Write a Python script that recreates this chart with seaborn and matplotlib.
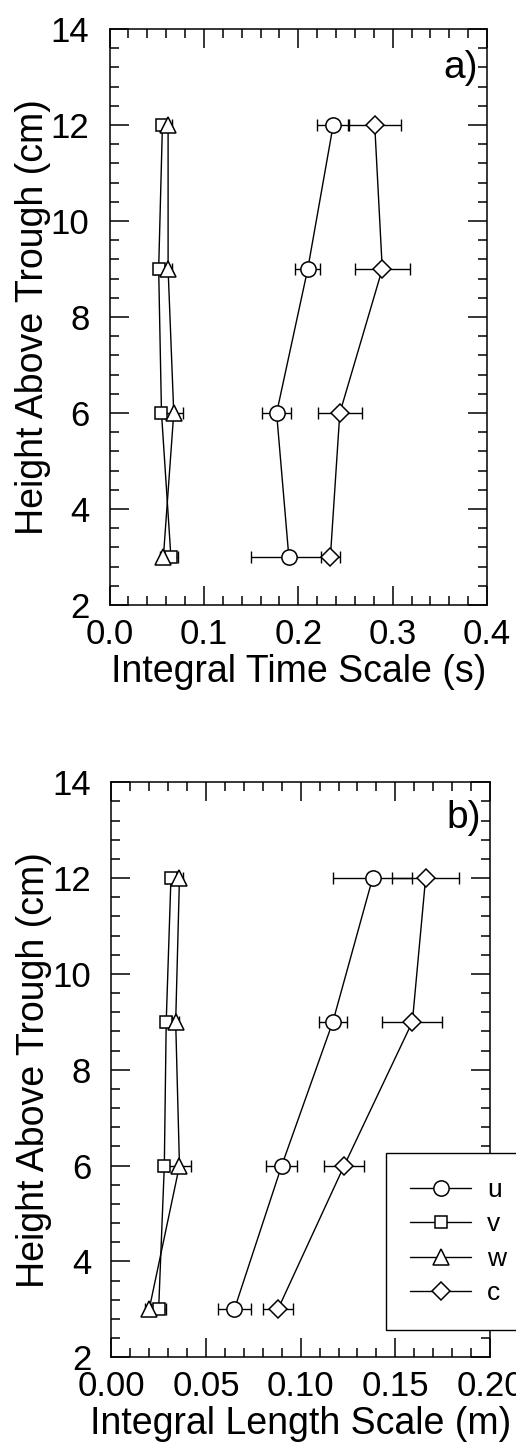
import numpy as np
import pandas as pd
import matplotlib
matplotlib.use("Agg")
import matplotlib.pyplot as plt
import seaborn as sns
from matplotlib.ticker import MultipleLocator

# ---------------- data ----------------
heights = [3, 6, 9, 12]
series = ["u", "v", "w", "c"]

# panel a) integral time scale (s)
time_u = [0.190, 0.177, 0.210, 0.237]
time_u_err = [0.040, 0.015, 0.013, 0.017]
time_v = [0.065, 0.055, 0.052, 0.056]
time_v_err = [0.007, 0.004, 0.004, 0.004]
time_w = [0.057, 0.068, 0.062, 0.062]
time_w_err = [0.004, 0.010, 0.004, 0.004]
time_c = [0.234, 0.244, 0.289, 0.281]
time_c_err = [0.010, 0.023, 0.029, 0.028]

# panel b) integral length scale (m)
len_u = [0.065, 0.090, 0.117, 0.138]
len_u_err = [0.0088, 0.0082, 0.0074, 0.0208]
len_v = [0.025, 0.028, 0.029, 0.0315]
len_v_err = [0.004, 0.002, 0.002, 0.002]
len_w = [0.020, 0.036, 0.034, 0.036]
len_w_err = [0.002, 0.0063, 0.002, 0.002]
len_c = [0.088, 0.123, 0.159, 0.166]
len_c_err = [0.0078, 0.0106, 0.0158, 0.0176]

time_vals = {"u": time_u, "v": time_v, "w": time_w, "c": time_c}
time_errs = {"u": time_u_err, "v": time_v_err, "w": time_w_err, "c": time_c_err}
len_vals = {"u": len_u, "v": len_v, "w": len_w, "c": len_c}
len_errs = {"u": len_u_err, "v": len_v_err, "w": len_w_err, "c": len_c_err}

# ---------------- style ----------------
sns.set_style("ticks")
plt.rcParams["font.family"] = ["Liberation Sans", "DejaVu Sans"]
plt.rcParams["axes.linewidth"] = 1.1
plt.rcParams["axes.edgecolor"] = "black"
plt.rcParams["text.color"] = "black"
plt.rcParams["axes.labelcolor"] = "black"
plt.rcParams["xtick.color"] = "black"
plt.rcParams["ytick.color"] = "black"
plt.rcParams["xtick.labelcolor"] = "black"
plt.rcParams["ytick.labelcolor"] = "black"

markers = {"u": "o", "v": "s", "w": "^", "c": "D"}
msizes = {"u": 11, "v": 9, "w": 11, "c": 9.5}

fig = plt.figure(figsize=(5.16, 14.53), dpi=100)
ax1 = fig.add_axes([0.2124, 0.5836, 0.7314, 0.3964])
ax2 = fig.add_axes([0.2157, 0.0659, 0.7339, 0.3957])


def draw(ax, vals, errs, xmax, xmajor, xminor, xlabel, tag, tag_y):
    for s in series:
        ax.errorbar(vals[s], heights, xerr=errs[s], fmt="none", ecolor="black",
                    elinewidth=1.0, capsize=4, capthick=1.0, zorder=1)
    for s in series:
        df = pd.DataFrame({"x": vals[s], "y": heights})
        sns.lineplot(data=df, x="x", y="y", orient="y", ax=ax, color="black",
                     linewidth=1.0, marker=markers[s], markersize=msizes[s],
                     markerfacecolor="white", markeredgecolor="black",
                     markeredgewidth=1.1, label=s, errorbar=None, zorder=3)
    leg = ax.get_legend()
    if leg is not None:
        leg.remove()
    ax.set_xlim(0, xmax)
    ax.set_ylim(2, 14)
    ax.xaxis.set_major_locator(MultipleLocator(xmajor))
    ax.xaxis.set_minor_locator(MultipleLocator(xminor))
    ax.yaxis.set_major_locator(MultipleLocator(2))
    ax.yaxis.set_minor_locator(MultipleLocator(0.4))
    ax.tick_params(which="both", direction="in", top=True, right=True,
                   width=1.1, color="black", labelcolor="black")
    ax.tick_params(which="major", length=13.5, labelsize=25)
    ax.tick_params(which="minor", length=6.5)
    ax.tick_params(axis="x", which="major", pad=9.5)
    ax.tick_params(axis="y", which="major", pad=14.5)
    ax.set_xlabel(xlabel, fontsize=27, labelpad=2, color="black")
    ax.set_ylabel("Height Above Trough (cm)", fontsize=27, labelpad=0, color="black")
    ax.text(0.975, tag_y, tag, transform=ax.transAxes, ha="right",
            va="baseline", fontsize=28, color="black")
    for sp in ax.spines.values():
        sp.set_visible(True)
        sp.set_linewidth(1.1)
        sp.set_color("black")


draw(ax1, time_vals, time_errs, 0.4, 0.1, 0.02, "Integral Time Scale (s)", "a)", 0.915)
draw(ax2, len_vals, len_errs, 0.2, 0.05, 0.01, "Integral Length Scale (m)", "b)", 0.92)

handles, labels = ax2.get_legend_handles_labels()
leg = fig.legend(handles, labels, loc="upper left",
                 bbox_to_anchor=(0.7475, 0.0881, 0.32, 0.1182), mode="expand",
                 bbox_transform=fig.transFigure, fontsize=19, frameon=True,
                 fancybox=False, edgecolor="black", framealpha=1,
                 handlelength=2.3, handletextpad=0.6, labelspacing=0.4,
                 borderpad=0.93, borderaxespad=0)
leg.get_frame().set_linewidth(1.0)
for t in leg.get_texts():
    t.set_color("black")

fig.savefig("out.png", dpi=100, facecolor="white")
